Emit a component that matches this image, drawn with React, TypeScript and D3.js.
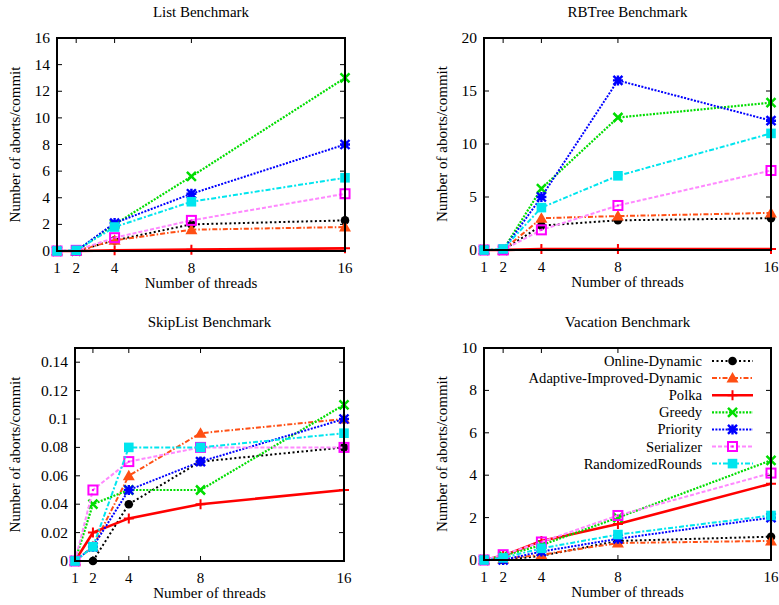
import React from "react";
import * as d3 from "d3";

const threads = [1, 2, 4, 8, 16];
const seriesNames = [
  "Online-Dynamic",
  "Adaptive-Improved-Dynamic",
  "Polka",
  "Greedy",
  "Priority",
  "Serializer",
  "RandomizedRounds",
];

const listValues = [
  [0, 0, 0.8, 2.0, 2.3],
  [0, 0, 0.8, 1.6, 1.8],
  [0, 0, 0.05, 0.1, 0.2],
  [0, 0, 2.0, 5.6, 13],
  [0, 0, 2.1, 4.3, 8],
  [0, 0.05, 1.0, 2.3, 4.3],
  [0, 0.05, 1.8, 3.7, 5.5],
];
const rbtreeValues = [
  [0, 0, 2.3, 2.8, 3.0],
  [0, 0, 3.0, 3.2, 3.5],
  [0, 0, 0.1, 0.1, 0.1],
  [0, 0, 5.8, 12.5, 13.9],
  [0, 0, 5.0, 16, 12.2],
  [0, 0, 1.9, 4.2, 7.5],
  [0, 0.1, 4.0, 7.0, 11.0],
];
const skiplistValues = [
  [0, 0, 0.04, 0.07, 0.08],
  [0, 0.01, 0.06, 0.09, 0.1],
  [0, 0.02, 0.03, 0.04, 0.05],
  [0, 0.04, 0.05, 0.05, 0.11],
  [0, 0.01, 0.05, 0.07, 0.1],
  [0, 0.05, 0.07, 0.08, 0.08],
  [0, 0.01, 0.08, 0.08, 0.09],
];
const vacationValues = [
  [0, 0, 0.2, 0.9, 1.1],
  [0, 0.05, 0.25, 0.8, 0.9],
  [0, 0.2, 0.9, 1.7, 3.6],
  [0, 0.2, 0.7, 2.0, 4.7],
  [0, 0, 0.4, 1.0, 2.0],
  [0, 0.25, 0.85, 2.1, 4.1],
  [0, 0.1, 0.55, 1.2, 2.1],
];

const listTicks = [0, 2, 4, 6, 8, 10, 12, 14, 16];
const rbtreeTicks = [0, 5, 10, 15, 20];
const skiplistTicks = [0, 0.02, 0.04, 0.06, 0.08, 0.1, 0.12, 0.14];
const vacationTicks = [0, 2, 4, 6, 8, 10];

type Style = {
  line: string;
  marker: string;
  dash: string;
  width: number;
  shape: string;
};
const styles: Style[] = [
  { line: "#000000", marker: "#000000", dash: "2,2.5", width: 2, shape: "circle" },
  { line: "#ff4f14", marker: "#ff4f14", dash: "5,2,1.5,2", width: 2, shape: "triangle" },
  { line: "#ff0000", marker: "#ff0000", dash: "", width: 2.6, shape: "plus" },
  { line: "#00dd00", marker: "#00dd00", dash: "2,1.4", width: 2.2, shape: "cross" },
  { line: "#0000ff", marker: "#0000ff", dash: "2,1.4", width: 2, shape: "star" },
  { line: "#ff88ff", marker: "#ff00ff", dash: "4,2", width: 2, shape: "osquare" },
  { line: "#00e5ee", marker: "#00e5ee", dash: "5,2,2,2", width: 2, shape: "square" },
];

const FONT = '"Liberation Serif", "DejaVu Serif", "Times New Roman", serif';

function Marker({ x, y, s }: { x: number; y: number; s: Style }) {
  const c = s.marker;
  switch (s.shape) {
    case "circle":
      return <circle cx={x} cy={y} r={4.3} fill={c} />;
    case "triangle":
      return (
        <path
          d={`M${x},${y - 6} L${x + 6},${y + 4.5} L${x - 6},${y + 4.5} Z`}
          fill={c}
        />
      );
    case "plus":
      return (
        <path
          d={`M${x - 5},${y} H${x + 5} M${x},${y - 5} V${y + 5}`}
          stroke={c}
          strokeWidth={2}
        />
      );
    case "cross":
      return (
        <path
          d={`M${x - 4.5},${y - 4.5} L${x + 4.5},${y + 4.5} M${x - 4.5},${y + 4.5} L${x + 4.5},${y - 4.5}`}
          stroke={c}
          strokeWidth={2.5}
        />
      );
    case "star":
      return (
        <g stroke={c} strokeWidth={2.4}>
          <path
            d={`M${x - 4.5},${y - 4.5} L${x + 4.5},${y + 4.5} M${x - 4.5},${y + 4.5} L${x + 4.5},${y - 4.5}`}
          />
          <path d={`M${x - 5},${y} H${x + 5} M${x},${y - 5} V${y + 5}`} />
          <rect x={x - 3} y={y - 3} width={6} height={6} fill={c} strokeWidth={0} />
        </g>
      );
    case "osquare":
      return (
        <g>
          <rect x={x - 4.5} y={y - 4.5} width={9} height={9} fill="none" stroke={c} strokeWidth={2} />
          <rect x={x - 1} y={y - 1} width={2} height={2} fill={c} />
        </g>
      );
    case "square":
      return <rect x={x - 4.8} y={y - 4.8} width={9.6} height={9.6} fill={c} />;
  }
  return null;
}

type PanelProps = {
  title: string;
  values: number[][];
  ticks: number[];
  yMax: number;
  left: number;
  right: number;
  top: number;
  bottom: number;
  yLabelX: number;
  legend?: boolean;
};

function Panel(p: PanelProps) {
  const x = d3.scaleLinear().domain([1, 16]).range([p.left, p.right]);
  const y = d3.scaleLinear().domain([0, p.yMax]).range([p.bottom, p.top]);
  const line = d3
    .line<number>()
    .x((_, i) => x(threads[i]))
    .y((d) => y(d));
  const tl = 5;
  const cx = (p.left + p.right) / 2;
  const cy = (p.top + p.bottom) / 2;
  return (
    <g style={{ fontFamily: FONT }} fill="#000">
      <text x={cx} y={p.top - 21} textAnchor="middle" fontSize={15}>
        {p.title}
      </text>
      {p.ticks.map((t) => (
        <g key={"y" + t}>
          <line x1={p.left} x2={p.left + tl} y1={y(t)} y2={y(t)} stroke="#000" strokeWidth={1} />
          <line x1={p.right} x2={p.right - tl} y1={y(t)} y2={y(t)} stroke="#000" strokeWidth={1} />
          <text x={p.left - 7} y={y(t) + 5} textAnchor="end" fontSize={15.5}>
            {String(t)}
          </text>
        </g>
      ))}
      {threads.map((t) => (
        <g key={"x" + t}>
          <line x1={x(t)} x2={x(t)} y1={p.bottom} y2={p.bottom - tl} stroke="#000" strokeWidth={1} />
          <line x1={x(t)} x2={x(t)} y1={p.top} y2={p.top + tl} stroke="#000" strokeWidth={1} />
          <text x={x(t)} y={p.bottom + 22} textAnchor="middle" fontSize={15}>
            {String(t)}
          </text>
        </g>
      ))}
      <text x={cx} y={p.bottom + 36.5} textAnchor="middle" fontSize={15}>
        Number of threads
      </text>
      <text
        transform={`translate(${p.yLabelX + 5},${cy}) rotate(-90)`}
        textAnchor="middle"
        fontSize={15}
      >
        Number of aborts/commit
      </text>
      {p.values.map((vals, si) => {
        const s = styles[si];
        return (
          <g key={seriesNames[si]}>
            <path
              d={line(vals) || ""}
              fill="none"
              stroke={s.line}
              strokeWidth={s.width}
              strokeDasharray={s.dash || undefined}
            />
            {vals.map((v, i) => (
              <Marker key={i} x={x(threads[i])} y={y(v)} s={s} />
            ))}
          </g>
        );
      })}
      <rect
        x={p.left}
        y={p.top}
        width={p.right - p.left}
        height={p.bottom - p.top}
        fill="none"
        stroke="#000"
        strokeWidth={2}
      />
      {p.legend &&
        seriesNames.map((name, si) => {
          const s = styles[si];
          const ly = 361 + si * 17.1;
          return (
            <g key={"lg" + name}>
              <text x={702} y={ly + 5} textAnchor="end" fontSize={14.6}>
                {name}
              </text>
              <line
                x1={712}
                x2={753}
                y1={ly}
                y2={ly}
                stroke={s.line}
                strokeWidth={s.width}
                strokeDasharray={s.dash || undefined}
              />
              <Marker x={732.5} y={ly} s={s} />
            </g>
          );
        })}
    </g>
  );
}

export default function App() {
  return (
    <div style={{ position: "absolute", left: 0, top: 0 }}>
      <svg width={779} height={605} style={{ display: "block", background: "#fff" }}>
        <Panel title="List Benchmark" values={listValues} ticks={listTicks} yMax={16}
          left={57} right={345} top={38} bottom={251} yLabelX={15} />
        <Panel title="RBTree Benchmark" values={rbtreeValues} ticks={rbtreeTicks} yMax={20}
          left={484} right={771} top={38} bottom={250} yLabelX={442} />
        <Panel title="SkipList Benchmark" values={skiplistValues} ticks={skiplistTicks} yMax={0.15}
          left={75} right={344} top={348} bottom={561} yLabelX={15} />
        <Panel title="Vacation Benchmark" values={vacationValues} ticks={vacationTicks} yMax={10}
          left={484} right={771} top={348} bottom={560} yLabelX={442} legend />
      </svg>
    </div>
  );
}
